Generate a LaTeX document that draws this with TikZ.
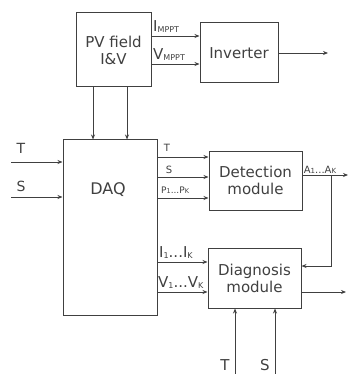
\documentclass[tikz,border=0pt]{standalone}
\usepackage{fontspec}
\setmainfont{DejaVu Sans}
\usetikzlibrary{arrows.meta}
\definecolor{ln}{HTML}{404040}
\begin{document}
\begin{tikzpicture}[x=1pt,y=-1pt,
  blk/.style={draw=ln,line width=1pt,rectangle,inner sep=0pt,align=center,text=ln,font=\fontsize{15}{17}\selectfont},
  arr/.style={draw=ln,line width=0.9pt,-{Stealth[length=5pt,width=4pt]}},
  lbl/.style={inner sep=0pt,text=ln}]
\useasboundingbox (0,0) rectangle (348,374);
\node[blk,minimum width=75pt,minimum height=74pt] (pv) at (113.5,50) {PV field\\I\&V};
\node[blk,minimum width=78pt,minimum height=60pt] (inv) at (239,53) {Inverter};
\node[blk,minimum width=94pt,minimum height=175pt] (daq) at (110,227.5) {};
\node[lbl,font=\fontsize{16}{16}\selectfont] (daqlbl) at (108,190) {DAQ};
\node[blk,minimum width=93pt,minimum height=59pt] (det) at (255.5,180.5) {Detection\\module};
\node[blk,minimum width=93pt,minimum height=60pt] (dia) at (254.5,278) {Diagnosis\\module};
% PV -> inverter
\draw[arr] (pv.east |- 0,36) -- (inv.west |- 0,36);
\draw[arr] (pv.east |- 0,64) -- (inv.west |- 0,64);
\node[lbl,anchor=south west] (limppt) at (153,33) {\fontsize{15}{15}\selectfont I\raisebox{-1pt}{\fontsize{8}{8}\selectfont MPPT}};
\node[lbl,anchor=south west] (lvmppt) at (153,61) {\fontsize{15}{15}\selectfont V\raisebox{-1pt}{\fontsize{8}{8}\selectfont MPPT}};
\coordinate (invout) at (328,53);
\draw[arr] (inv.east) -- (invout);
% PV -> DAQ
\draw[arr] (pv.south -| 93,0) -- (daq.north -| 93,0);
\draw[arr] (pv.south -| 127,0) -- (daq.north -| 127,0);
% inputs to DAQ
\coordinate (tin) at (11,162);
\coordinate (sin) at (11,197);
\draw[arr] (tin) -- (daq.west |- tin);
\draw[arr] (sin) -- (daq.west |- sin);
\node[lbl,font=\fontsize{14}{14}\selectfont] (lt) at (21,148) {T};
\node[lbl,font=\fontsize{14}{14}\selectfont] (ls) at (21,186) {S};
% DAQ -> detection
\draw[arr] (daq.east |- 0,157) -- (det.west |- 0,157);
\draw[arr] (daq.east |- 0,177) -- (det.west |- 0,177);
\draw[arr] (daq.east |- 0,198) -- (det.west |- 0,198);
\node[lbl,font=\fontsize{10}{10}\selectfont] (dt) at (167,147.5) {T};
\node[lbl,font=\fontsize{10}{10}\selectfont] (ds) at (169,170) {S};
\node[lbl,anchor=west] (dp) at (161,190) {\fontsize{9}{9}\selectfont P\raisebox{-0.5pt}{\fontsize{6.5}{6.5}\selectfont 1}...P\raisebox{-0.5pt}{\fontsize{6.5}{6.5}\selectfont K}};
% detection output
\coordinate (detout) at (348,175);
\coordinate (br) at (331,175);
\draw[arr] (det.east |- detout) -- (detout);
\node[lbl] (la) at (320,170) {\fontsize{10}{10}\selectfont A\raisebox{-0.5pt}{\fontsize{7}{7}\selectfont 1}...A\raisebox{-0.5pt}{\fontsize{7}{7}\selectfont K}};
\draw[arr] (br) -- (331,266) -- (dia.east |- 0,266);
% DAQ -> diagnosis
\draw[arr] (daq.east |- 0,262) -- (dia.west |- 0,262);
\draw[arr] (daq.east |- 0,292) -- (dia.west |- 0,292);
\node[lbl,anchor=south west] (li) at (159,259) {\fontsize{15}{15}\selectfont I\raisebox{-1pt}{\fontsize{8}{8}\selectfont 1}...I\raisebox{-1pt}{\fontsize{8}{8}\selectfont K}};
\node[lbl,anchor=south west] (lv) at (158,289) {\fontsize{15}{15}\selectfont V\raisebox{-1pt}{\fontsize{8}{8}\selectfont 1}...V\raisebox{-1pt}{\fontsize{8}{8}\selectfont K}};
\coordinate (diaout) at (346,292);
\draw[arr] (dia.east |- diaout) -- (diaout);
% bottom inputs
\coordinate (tb) at (235,374);
\coordinate (sb) at (275,374);
\draw[arr] (tb) -- (dia.south -| tb);
\draw[arr] (sb) -- (dia.south -| sb);
\node[lbl,font=\fontsize{15}{15}\selectfont] (lbt) at (225,365.5) {T};
\node[lbl,font=\fontsize{15}{15}\selectfont] (lbs) at (265,365) {S};
\end{tikzpicture}
\end{document}
